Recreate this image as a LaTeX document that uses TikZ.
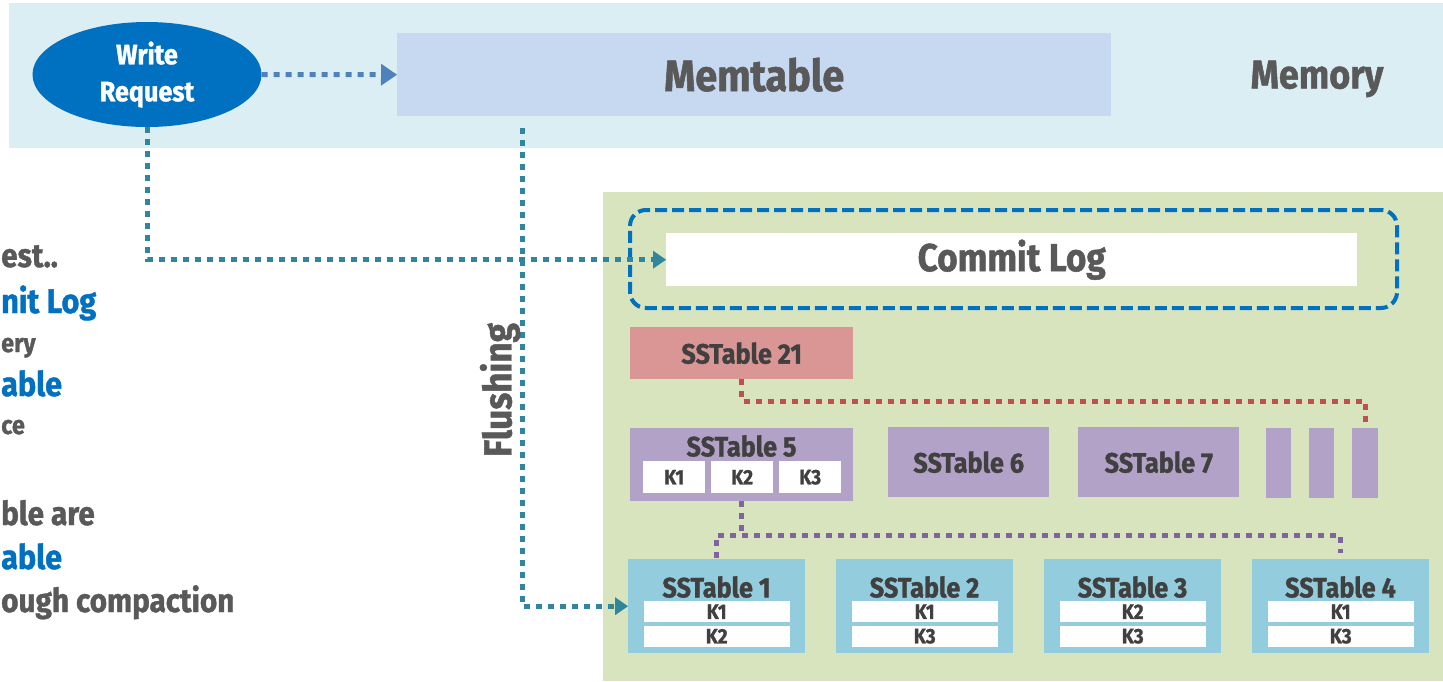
\documentclass[tikz,border=0pt]{standalone}
\usepackage{fontspec}
\setmainfont{Fira Sans}[FakeStretch=0.9, BoldFeatures={FakeBold=1.2}]
\usetikzlibrary{arrows.meta,shapes.geometric}
\definecolor{membg}{HTML}{DBEEF4}
\definecolor{memtab}{HTML}{C6D9F1}
\definecolor{wrblue}{HTML}{0070C0}
\definecolor{txtgray}{HTML}{595959}
\definecolor{ssgray}{HTML}{404040}
\definecolor{diskbg}{HTML}{D7E4BD}
\definecolor{ssred}{HTML}{DA9694}
\definecolor{sspurp}{HTML}{B3A2C7}
\definecolor{ssblue}{HTML}{93CDDD}
\definecolor{teal}{HTML}{31859C}
\definecolor{arrblue}{HTML}{4F81BD}
\definecolor{dotred}{HTML}{C0504D}
\definecolor{dotpurp}{HTML}{8064A2}
\newcommand{\fsz}[1]{\fontsize{#1}{#1}\selectfont\bfseries}
\tikzset{
  rbox/.style={draw=none, inner sep=0pt, anchor=north west, text=ssgray},
  dotline/.style={line width=5pt, dash pattern=on 6pt off 6pt},
  kbox/.style={rbox, fill=white, font=\fsz{21}},
  sslabel/.style={font=\fsz{28}, text=ssgray, inner sep=0pt},
  ltxt/.style={anchor=base west, inner sep=0pt},
  ltgray/.style={ltxt, text=txtgray, font=\fsz{33}},
  ltsmall/.style={ltxt, text=txtgray, font=\fsz{26}},
  ltblue/.style={ltxt, text=wrblue, font=\fsz{34}},
}
\begin{document}
\begin{tikzpicture}[x=1pt,y=-1pt]
\useasboundingbox (0,0) rectangle (1443,681);
% memory band
\fill[membg] (9,3) rectangle (1443,148);
% disk band
\fill[diskbg] (603,192) rectangle (1443,681);

\node[rbox, fill=memtab, minimum width=714pt, minimum height=83pt, text=txtgray, font=\fsz{44}] (mem) at (397,33) {Memtable};
\node[text=txtgray, font=\fsz{40}, inner sep=0pt] (memory) at (1317,79) {Memory};
\node[ellipse, fill=wrblue, minimum width=229pt, minimum height=105pt, inner sep=0pt, text=white, font=\fsz{28}, align=center] (wr) at (147,74.5) {Write\\[9pt]Request};

% commit log
\node[rbox, draw=wrblue, line width=4pt, dash pattern=on 12pt off 5pt, rounded corners=16pt, minimum width=767pt, minimum height=98pt] (clframe) at (628,208) {};
\node[rbox, fill=white, minimum width=691pt, minimum height=53pt, text=txtgray, font=\fsz{39}] (cl) at (666,233) {Commit Log};

% SSTables
\node[rbox, fill=ssred, minimum width=223pt, minimum height=52pt, font=\fsz{28}] (ss21) at (630,327) {SSTable 21};
\node[rbox, fill=sspurp, minimum width=223pt, minimum height=73pt] (ss5) at (630,428) {};
\node[sslabel] (ss5t) at (741.5,446) {SSTable 5};
\node[kbox, minimum width=62pt, minimum height=32pt] (k51) at (643,461) {K1};
\node[kbox, minimum width=62pt, minimum height=32pt] (k52) at (711,461) {K2};
\node[kbox, minimum width=62pt, minimum height=32pt] (k53) at (779,461) {K3};
\node[rbox, fill=sspurp, minimum width=161pt, minimum height=70pt, font=\fsz{28}] (ss6) at (888,427) {SSTable 6};
\node[rbox, fill=sspurp, minimum width=161pt, minimum height=70pt, font=\fsz{28}] (ss7) at (1078,427) {SSTable 7};
\node[rbox, fill=sspurp, minimum width=25pt, minimum height=70pt] (sm1) at (1266,428) {};
\node[rbox, fill=sspurp, minimum width=25pt, minimum height=70pt] (sm2) at (1309,428) {};
\node[rbox, fill=sspurp, minimum width=26pt, minimum height=70pt] (sm3) at (1352,428) {};

\foreach \i/\x/\ka/\kb in {1/628/K1/K2, 2/836/K1/K3, 3/1044/K2/K3, 4/1252/K1/K3}{
  \node[rbox, fill=ssblue, minimum width=177pt, minimum height=94pt] (ss\i) at (\x,559) {};
  \node[sslabel] (ss\i t) at (\x+88.5,587) {SSTable \i};
  \node[kbox, minimum width=146pt, minimum height=21pt] (ss\i a) at (\x+15.5,601) {\ka};
  \node[kbox, minimum width=146pt, minimum height=21pt] (ss\i b) at (\x+15.5,625.5) {\kb};
}

% connectors
\draw[dotline, draw=arrblue, -{Triangle[length=16pt,width=22pt,line width=0pt]}] (wr.east) -- (mem.west);
\draw[dotline, draw=teal, -{Triangle[length=13pt,width=18pt,line width=0pt]}] (wr.south) |- (cl.west);
\coordinate (flstart) at (522,128);
\draw[dotline, draw=teal, -{Triangle[length=13pt,width=18pt,line width=0pt]}] (flstart) |- (ss1.west);
\node[rotate=90, text=txtgray, font=\fsz{39}, inner sep=0pt] (flush) at (500,390) {Flushing};

\draw[dotline, draw=dotred, shorten >=3pt] (ss21.south) -- ++(0,22) -| (sm3.north);
\draw[dotline, draw=dotpurp] (ss5.south) -- ++(0,34) coordinate (pj);
\draw[dotline, draw=dotpurp, shorten <=1pt, shorten >=6pt] (ss1.north) |- (pj) -| (ss4.north);

% left text fragments
\node[ltgray] (l1) at (1,267) {est..};
\node[ltblue] (l2) at (1,313) {nit Log};
\node[ltsmall] (l3) at (1,352) {ery};
\node[ltblue] (l4) at (1,396) {able};
\node[ltsmall] (l5) at (1,434) {ce};
\node[ltgray] (l6) at (1,525) {ble are};
\node[ltblue] (l7) at (1,569) {able};
\node[ltgray] (l8) at (1,612) {ough compaction};
\end{tikzpicture}
\end{document}
